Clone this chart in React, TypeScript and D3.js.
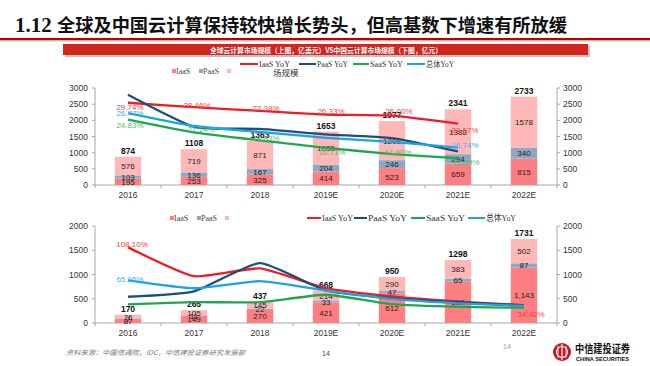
import React from "react";
import * as d3 from "d3";

// ---------- data ----------
const years = ["2016", "2017", "2018", "2019E", "2020E", "2021E", "2022E"];

const globalIaaS = [195, 253, 325, 414, 523, 659, 815];
const globalPaaS = [103, 136, 167, 204, 246, 294, 340];
const globalSaaS = [576, 719, 871, 1035, 1208, 1388, 1578];
const globalTotal = [874, 1108, 1363, 1653, 1977, 2341, 2733];
const globalIaaSYoY = [29.74, 28.46, 27.38, 26.33, 26.0, 23.67];
const globalPaaSYoY = [32.04, 22.79, 22.16, 20.59, 19.51, 15.65];
const globalSaaSYoY = [24.83, 21.14, 18.83, 16.71, 14.9, 13.69];
const globalTotalYoY = [26.77, 23.01, 21.28, 19.6, 18.41, 16.74];

const chinaIaaS = [87, 149, 270, 421, 612, 850, 1143];
const chinaPaaS = [7, 11, 22, 33, 47, 65, 87];
const chinaSaaS = [76, 105, 145, 214, 290, 383, 502];
const chinaTotal = [170, 265, 437, 668, 950, 1298, 1731];
const chinaIaaSYoY = [108.1, 71.26, 81.21, 55.93, 45.37, 38.89, 34.42];
const chinaPaaSYoY = [45.0, 52.0, 88.0, 53.0, 43.0, 38.0, 34.0];
const chinaSaaSYoY = [35.4, 38.16, 38.1, 47.59, 35.51, 32.07, 31.07];
const chinaTotalYoY = [65.95, 55.88, 64.91, 52.86, 42.22, 36.63, 33.36];

const topTicks = [0, 500, 1000, 1500, 2000, 2500, 3000];
const bottomTicks = [0, 500, 1000, 1500, 2000];

const title = "全球及中国云计算保持较快增长势头，但高基数下增速有所放缓";
const bannerText = "全球云计算市场规模（上图，亿美元）VS中国云计算市场规模（下图，亿元）";
const sourceText = "资料来源：中国信通院，IDC，中信建投证券研究发展部";

// ---------- styles ----------
const C = {
  iaas: "#FF7E82",
  paas: "#8FA9C2",
  saas: "#FFB8B8",
  red: "#EE1C24",
  navy: "#1F4E79",
  green: "#1FA84B",
  sky: "#1CA3E3",
  redLbl: "#F2423D",
  greenLbl: "#5BB46C",
  skyLbl: "#3DB2EA",
  axis: "#A6A6A6",
};
const SANS = "'Liberation Sans', Arial, sans-serif";
const SERIF = "'Liberation Serif', 'Noto Sans CJK SC', serif";
const CJK = "'Noto Sans CJK SC', sans-serif";

type LineSpec = { vals: number[]; color: string; lblColor: string; labels: { i: number; dx: number; dy: number }[] };

const X0 = 95;
const X1 = 557;
const x = d3.scaleBand<string>().domain(years).range([X0, X1]).padding(0);
const cx = (i: number) => (x(years[i]) as number) + x.bandwidth() / 2;
const barW = x.bandwidth() * 0.4;

function Panel(props: {
  iaas: number[];
  paas: number[];
  saas: number[];
  total: number[];
  ticks: number[];
  y0: number;
  y1: number;
  lineDomain: [number, number];
  lines: LineSpec[];
  iaasFmt: (v: number) => string;
}) {
  const { iaas, paas, saas, total, ticks, y0, y1, lineDomain, lines, iaasFmt } = props;
  const y = d3.scaleLinear().domain([0, ticks[ticks.length - 1]]).range([y0, y1]);
  const yl = d3.scaleLinear().domain(lineDomain).range([y0, y1]);
  const table = years.map((yr, i) => ({ yr, iaas: iaas[i], paas: paas[i], saas: saas[i] }));
  const stack = d3.stack<any>().keys(["iaas", "paas", "saas"])(table);
  const colors: Record<string, string> = { iaas: C.iaas, paas: C.paas, saas: C.saas };
  const line = d3
    .line<number>()
    .x((_, i) => cx(i))
    .y((d) => yl(d))
    .curve(d3.curveCardinal.tension(0.5));
  const bounds = d3.range(years.length + 1).map((i) => X0 + i * x.bandwidth());
  return (
    <g>
      {/* axes */}
      <line x1={X0} x2={X0} y1={y1} y2={y0} stroke={C.axis} strokeWidth={1} />
      <line x1={X1} x2={X1} y1={y1} y2={y0} stroke={C.axis} strokeWidth={1} />
      <line x1={X0} x2={X1} y1={y0} y2={y0} stroke={C.axis} strokeWidth={1} />
      {ticks.map((t) => (
        <g key={t}>
          <line x1={X0 - 3} x2={X0} y1={y(t)} y2={y(t)} stroke={C.axis} />
          <line x1={X1} x2={X1 + 3} y1={y(t)} y2={y(t)} stroke={C.axis} />
          <text x={88} y={y(t) + 3} textAnchor="end" fontSize={8.5} fontFamily={SANS} fill="#333">
            {t}
          </text>
          <text x={563} y={y(t) + 3} textAnchor="start" fontSize={8.5} fontFamily={SANS} fill="#333">
            {t}
          </text>
        </g>
      ))}
      {bounds.map((b, i) => (
        <line key={i} x1={b} x2={b} y1={y0} y2={y0 + 3} stroke={C.axis} />
      ))}
      {years.map((yr, i) => (
        <text key={yr} x={cx(i)} y={y0 + 13} textAnchor="middle" fontSize={8.5} fontFamily={SANS} fill="#333">
          {yr}
        </text>
      ))}
      {/* bars */}
      {stack.map((s) =>
        s.map((d, i) => (
          <rect
            key={s.key + i}
            x={cx(i) - barW / 2}
            width={barW}
            y={y(d[1])}
            height={y(d[0]) - y(d[1])}
            fill={colors[s.key]}
          />
        ))
      )}
      {/* bar labels */}
      {stack.map((s) =>
        s.map((d, i) => (
          <text
            key={"l" + s.key + i}
            x={cx(i)}
            y={(y(d[0]) + y(d[1])) / 2 + 3}
            textAnchor="middle"
            fontSize={8}
            fontFamily={SANS}
            fill="#222"
          >
            {s.key === "iaas" ? iaasFmt(d[1] - d[0]) : d[1] - d[0]}
          </text>
        ))
      )}
      {total.map((t, i) => (
        <text key={"t" + i} x={cx(i)} y={y(t) - 3} textAnchor="middle" fontSize={8.5} fontWeight="bold" fontFamily={SANS} fill="#111">
          {t}
        </text>
      ))}
      {/* lines */}
      {lines.map((l, k) => (
        <path key={k} d={line(l.vals) || ""} fill="none" stroke={l.color} strokeWidth={2.3} strokeLinejoin="round" />
      ))}
      {lines.map((l, k) =>
        l.labels.map((lb) => (
          <text
            key={k + "-" + lb.i}
            x={cx(lb.i) + lb.dx}
            y={yl(l.vals[lb.i]) + lb.dy + 3}
            textAnchor="middle"
            fontSize={8}
            fontFamily={SANS}
            fill={l.lblColor}
          >
            {l.vals[lb.i].toFixed(2) + "%"}
          </text>
        ))
      )}
    </g>
  );
}

function LineLegend(props: { items: { x: number; w: number; color: string; text: string; tw: number }[]; y: number; fs: number }) {
  return (
    <g>
      {props.items.map((it) => (
        <g key={it.text}>
          <line x1={it.x} x2={it.x + it.w} y1={props.y} y2={props.y} stroke={it.color} strokeWidth={2} />
          <text
            x={it.x + it.w + 1}
            y={props.y + 3}
            fontSize={props.fs}
            fontFamily={SERIF}
            fill="#333"
            textLength={it.tw}
            lengthAdjust="spacingAndGlyphs"
          >
            {it.text}
          </text>
        </g>
      ))}
    </g>
  );
}

function BarLegend(props: { x: number; y: number }) {
  const { x: lx, y: ly } = props;
  return (
    <g>
      <rect x={lx} y={ly - 2} width={4} height={4} fill={C.iaas} />
      <text x={lx + 4} y={ly + 3} fontSize={8} fontFamily={SERIF} fill="#444">IaaS</text>
      <rect x={lx + 27} y={ly - 2} width={4} height={4} fill={C.paas} />
      <text x={lx + 31} y={ly + 3} fontSize={8} fontFamily={SERIF} fill="#444">PaaS</text>
      <rect x={lx + 55} y={ly - 2} width={4} height={4} fill={C.saas} />
    </g>
  );
}

export default function App() {
  const topLines: LineSpec[] = [
    {
      vals: globalIaaSYoY, color: C.red, lblColor: C.redLbl,
      labels: [
        { i: 0, dx: 2, dy: 4 }, { i: 1, dx: 3, dy: -2 }, { i: 2, dx: 6, dy: -3 },
        { i: 3, dx: 5, dy: -4 }, { i: 4, dx: 7, dy: -5 }, { i: 5, dx: 7, dy: 6 },
      ],
    },
    { vals: globalPaaSYoY, color: C.navy, lblColor: C.navy, labels: [] },
    {
      vals: globalSaaSYoY, color: C.green, lblColor: C.greenLbl,
      labels: [
        { i: 0, dx: 2, dy: 5 }, { i: 1, dx: 7, dy: -3 }, { i: 2, dx: 6, dy: -2 },
        { i: 3, dx: 6, dy: 4 }, { i: 4, dx: 6, dy: -2 }, { i: 5, dx: 8, dy: 4 },
      ],
    },
    {
      vals: globalTotalYoY, color: C.sky, lblColor: C.skyLbl,
      labels: [{ i: 0, dx: 2, dy: 0 }, { i: 5, dx: 7, dy: -3 }],
    },
  ];
  const bottomLines: LineSpec[] = [
    { vals: chinaIaaSYoY, color: C.red, lblColor: C.redLbl, labels: [{ i: 0, dx: 4, dy: -3 }, { i: 6, dx: 7, dy: 9 }] },
    { vals: chinaPaaSYoY, color: C.navy, lblColor: C.navy, labels: [] },
    { vals: chinaSaaSYoY, color: C.green, lblColor: C.greenLbl, labels: [] },
    { vals: chinaTotalYoY, color: C.sky, lblColor: C.skyLbl, labels: [{ i: 0, dx: 2, dy: -1 }] },
  ];
  const fmtComma = d3.format(",");
  const plain = (v: number) => String(v);

  return (
    <svg width={650} height={366} style={{ position: "absolute", left: 0, top: 0, background: "#fff" }}>
      <rect x={0} y={0} width={650} height={366} fill="#fff" />
      {/* title */}
      <text x={15} y={32} fontFamily="'Liberation Serif', serif" fontWeight="bold" fontSize={21} fill="#111">
        1.12
      </text>
      <text x={57} y={32} fontFamily={CJK} fontWeight="bold" fontSize={18} fill="#111" textLength={510} lengthAdjust="spacingAndGlyphs">
        {title}
      </text>
      <rect x={0} y={38} width={650} height={2} fill="#C00000" />
      <rect x={0} y={40} width={650} height={1.5} fill="#bbb" />
      {/* banner */}
      <rect x={65} y={46} width={525} height={11} fill="#999" opacity={0.6} />
      <rect x={63} y={44} width={525} height={11} fill="#D5251F" />
      <text x={326} y={52.5} textAnchor="middle" fontFamily={CJK} fontWeight="bold" fontSize={7} fill="#fff" textLength={232} lengthAdjust="spacingAndGlyphs">
        {bannerText}
      </text>

      {/* top legends */}
      <LineLegend
        y={64}
        fs={8}
        items={[
          { x: 240, w: 18, color: C.red, text: "IaaS YoY", tw: 31 },
          { x: 299, w: 17, color: C.navy, text: "PaaS YoY", tw: 31 },
          { x: 353, w: 16, color: C.green, text: "SaaS YoY", tw: 33 },
          { x: 407, w: 18, color: C.sky, text: "总体YoY", tw: 28 },
        ]}
      />
      <BarLegend x={172} y={71} />
      <text x={273} y={76} fontFamily={CJK} fontSize={8.5} fill="#333">场规模</text>

      <Panel
        iaas={globalIaaS}
        paas={globalPaaS}
        saas={globalSaaS}
        total={globalTotal}
        ticks={topTicks}
        y0={185}
        y1={88}
        lineDomain={[5.95, 34]}
        lines={topLines}
        iaasFmt={plain}
      />

      {/* bottom legends */}
      <BarLegend x={170} y={218} />
      <LineLegend
        y={218}
        fs={9}
        items={[
          { x: 307, w: 14, color: C.red, text: "IaaS YoY", tw: 31 },
          { x: 354, w: 13, color: C.navy, text: "PaaS YoY", tw: 39 },
          { x: 411, w: 14, color: C.green, text: "SaaS YoY", tw: 39 },
          { x: 468, w: 17, color: C.sky, text: "总体YoY", tw: 30 },
        ]}
      />

      <Panel
        iaas={chinaIaaS}
        paas={chinaPaaS}
        saas={chinaSaaS}
        total={chinaTotal}
        ticks={bottomTicks}
        y0={323}
        y1={226}
        lineDomain={[11.5, 135.4]}
        lines={bottomLines}
        iaasFmt={(v) => fmtComma(v)}
      />

      {/* footer */}
      <text x={66} y={355} fontFamily={CJK} fontStyle="italic" fontSize={6.5} fill="#777" textLength={179} lengthAdjust="spacingAndGlyphs">
        {sourceText}
      </text>
      <text x={322} y={356} fontFamily={SANS} fontSize={7} fill="#444">14</text>
      <text x={503} y={349} fontFamily={SANS} fontSize={7} fill="#999">14</text>
      <circle cx={562} cy={352} r={9} fill="#C8161E" />
      <circle cx={562} cy={352} r={5.5} fill="none" stroke="#fff" strokeWidth={1.2} />
      <line x1={562} x2={562} y1={344} y2={360} stroke="#fff" strokeWidth={1.2} />
      <line x1={558} x2={558} y1={346} y2={358} stroke="#fff" strokeWidth={0.8} />
      <line x1={566} x2={566} y1={346} y2={358} stroke="#fff" strokeWidth={0.8} />
      <text x={575} y={353} fontFamily={CJK} fontWeight="bold" fontSize={11} fill="#111" textLength={55} lengthAdjust="spacingAndGlyphs">
        中信建投证券
      </text>
      <text x={576} y={360.5} fontFamily={SANS} fontWeight="bold" fontSize={5} fill="#111" textLength={53} lengthAdjust="spacingAndGlyphs">
        CHINA SECURITIES
      </text>
    </svg>
  );
}
